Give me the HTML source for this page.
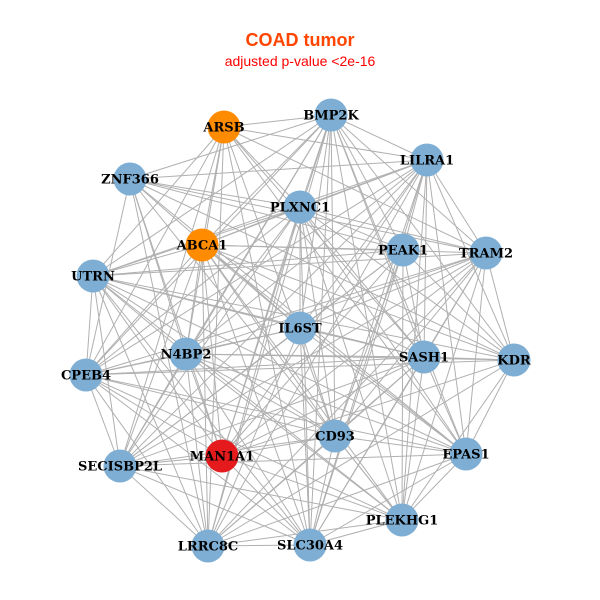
<!DOCTYPE html>
<html><head><meta charset="utf-8"><style>
html,body{margin:0;padding:0;background:#fff;width:600px;height:600px;overflow:hidden}
svg{display:block}
.l{font-family:"DejaVu Serif",serif;font-weight:bold;font-size:13px;fill:#000;text-anchor:middle;dominant-baseline:central}
</style></head><body>
<svg id="s" width="600" height="600" viewBox="0 0 600 600">
<text x="300" y="46" text-anchor="middle" font-family="Liberation Sans,sans-serif" font-weight="bold" font-size="18" fill="#FF4500">COAD tumor</text>
<text x="300" y="66" text-anchor="middle" font-family="Liberation Sans,sans-serif" font-size="14" fill="#FF0000">adjusted p-value &lt;2e-16</text>
<g id="edges" stroke="#b0b0b0" stroke-width="1"></g>
<g id="nodes"></g>
<g id="labels" transform="translate(0,1)">
<text class="l" x="224" y="127">ARSB</text>
<text class="l" x="331" y="115">BMP2K</text>
<text class="l" x="427" y="160">LILRA1</text>
<text class="l" x="130" y="179">ZNF366</text>
<text class="l" x="300" y="207">PLXNC1</text>
<text class="l" x="202" y="245">ABCA1</text>
<text class="l" x="403" y="250">PEAK1</text>
<text class="l" x="486" y="253">TRAM2</text>
<text class="l" x="93" y="276">UTRN</text>
<text class="l" x="300" y="328">IL6ST</text>
<text class="l" x="186" y="354">N4BP2</text>
<text class="l" x="424" y="357">SASH1</text>
<text class="l" x="514" y="360">KDR</text>
<text class="l" x="86" y="375">CPEB4</text>
<text class="l" x="335" y="436">CD93</text>
<text class="l" x="222" y="456">MAN1A1</text>
<text class="l" x="466" y="454">EPAS1</text>
<text class="l" x="120" y="466">SECISBP2L</text>
<text class="l" x="402" y="520">PLEKHG1</text>
<text class="l" x="208" y="546">LRRC8C</text>
<text class="l" x="310" y="545">SLC30A4</text>
</g>
</svg>
<script>
var N=[[224,127,"#FF8C00"],[331,115],[427,160],[130,179],[300,207],[202,245,"#FF8C00"],[403,250],[486,253],[93,276],[300,328],[186,354],[424,357],[514,360],[86,375],[335,436],[222,456,"#E41A1C"],[466,454],[120,466],[402,520],[208,546],[310,545]];
var ns="http://www.w3.org/2000/svg",E=document.getElementById("edges"),G=document.getElementById("nodes");
for(var i=0;i<N.length;i++)for(var j=i+1;j<N.length;j++){
 if((i*7+j*3)%9==0)continue;
 var l=document.createElementNS(ns,"line");
 l.setAttribute("x1",N[i][0]);l.setAttribute("y1",N[i][1]);l.setAttribute("x2",N[j][0]);l.setAttribute("y2",N[j][1]);E.appendChild(l);}
N.forEach(function(n){var c=document.createElementNS(ns,"circle");c.setAttribute("cx",n[0]);c.setAttribute("cy",n[1]);c.setAttribute("r",16.5);c.setAttribute("fill",n[2]||"#7EAED3");G.appendChild(c);});
</script>
</body></html>
